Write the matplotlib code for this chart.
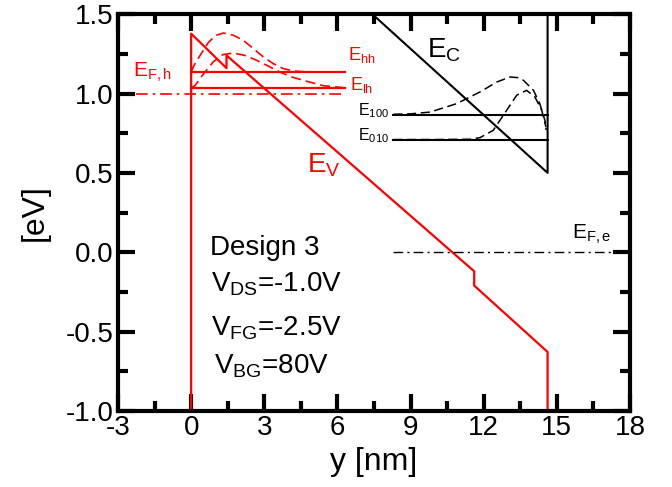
import matplotlib
matplotlib.use('Agg')
import matplotlib.pyplot as plt
from matplotlib.ticker import MultipleLocator, FormatStrFormatter

plt.rcParams['font.family'] = ['Liberation Sans', 'DejaVu Sans']
plt.rcParams['mathtext.fontset'] = 'custom'
plt.rcParams['mathtext.rm'] = 'Liberation Sans'
plt.rcParams['mathtext.default'] = 'regular'
plt.rcParams['axes.unicode_minus'] = False

# valence band edge (red)
ev_x = [0, 0, 1.45, 1.45, 11.61, 11.61, 14.62, 14.62]
ev_y = [-1.05, 1.377, 1.16, 1.24, -0.12, -0.21, -0.628, -1.05]

# conduction band edge (black)
ec_x = [7.43, 14.62, 14.62]
ec_y = [1.5, 0.5, 1.55]

# hole levels and fermi level (left side)
hole_x = [0, 6.31]
e_hh = 1.135
e_lh = 1.035
efh_x = [-2.27, 6.31]
efh = 1.0

# electron levels and fermi level (right side)
elec_x = [8.29, 14.62]
e_100 = 0.866
e_010 = 0.71
efe_x = [8.29, 18]
efe = 0.0

# wavefunctions
hh_x = [0, 0.1, 0.2, 0.41, 0.7, 1.0, 1.32, 1.73, 2.14, 2.55, 2.96, 3.37, 3.78, 4.19, 4.74, 5.3]
hh_y = [1.135, 1.17, 1.2, 1.25, 1.32, 1.365, 1.381, 1.367, 1.335, 1.283, 1.23, 1.188, 1.157, 1.142, 1.136, 1.135]
lh_x = [0, 0.16, 0.41, 0.91, 1.3, 1.73, 2.2, 2.69, 3.2, 3.64, 4.1, 4.6, 5.4, 6.23]
lh_y = [1.035, 1.05, 1.104, 1.2, 1.245, 1.255, 1.24, 1.209, 1.17, 1.135, 1.105, 1.083, 1.05, 1.037]
w100_x = [8.29, 9.0, 9.8, 10.89, 11.85, 12.53, 13.08, 13.4, 13.63, 14.04, 14.3, 14.51, 14.56]
w100_y = [0.869, 0.872, 0.883, 0.936, 1.01, 1.072, 1.104, 1.1, 1.083, 1.02, 0.936, 0.831, 0.77]
w010_x = [8.29, 10.0, 11.44, 11.85, 12.39, 12.94, 13.35, 13.76, 14.1, 14.38, 14.55]
w010_y = [0.71, 0.71, 0.712, 0.722, 0.768, 0.894, 0.989, 1.02, 0.978, 0.894, 0.789]

red = '#ff0000'
fig = plt.figure(figsize=(6.72, 4.87), dpi=100)
ax = fig.add_axes([0.1756, 0.156, 0.7619, 0.815])

ax.plot(ev_x, ev_y, color=red, lw=1.6)
ax.plot(ec_x, ec_y, color='black', lw=1.5)

ax.plot(hole_x, [e_hh, e_hh], color=red, lw=1.6)
ax.plot(hole_x, [e_lh, e_lh], color=red, lw=1.6)
ax.plot(efh_x, [efh, efh], color=red, lw=1.2, dashes=(7, 3, 1.5, 3))
ax.plot(hh_x, hh_y, color=red, lw=1.2, dashes=(6, 3))
ax.plot(lh_x, lh_y, color=red, lw=1.2, dashes=(6, 3))

ax.plot(elec_x, [e_100, e_100], color='black', lw=1.5)
ax.plot(elec_x, [e_010, e_010], color='black', lw=1.5)
ax.plot(efe_x, [efe, efe], color='black', lw=1.0, dashes=(7, 3, 1.5, 3))
ax.plot(w100_x, w100_y, color='black', lw=1.1, dashes=(6, 3))
ax.plot(w010_x, w010_y, color='black', lw=1.1, dashes=(6, 3))

# labels
ax.text(9.67, 1.228, '$E_C$', fontsize=20)
ax.text(4.75, 0.504, '$E_V$', fontsize=20, color=red)
ax.text(-2.37, 1.104, '$E_{F,h}$', fontsize=15, color=red)
ax.text(6.45, 1.209, '$E_{hh}$', fontsize=13, color=red)
ax.text(6.5, 1.02, '$E_{lh}$', fontsize=13, color=red)
ax.text(6.86, 0.863, '$E_{100}$', fontsize=11.5)
ax.text(6.86, 0.708, '$E_{010}$', fontsize=11.5)
ax.text(15.62, 0.088, '$E_{F,e}$', fontsize=15)

ax.text(0.77, -0.019, 'Design 3', fontsize=20)
ax.text(0.82, -0.25, '$V_{DS}$=-1.0V', fontsize=20)
ax.text(0.82, -0.523, '$V_{FG}$=-2.5V', fontsize=20)
ax.text(0.95, -0.762, '$V_{BG}$=80V', fontsize=20)

ax.set_xlim(-3, 18)
ax.set_ylim(-1.0, 1.5)
ax.xaxis.set_major_locator(MultipleLocator(3))
ax.xaxis.set_minor_locator(MultipleLocator(1.5))
ax.yaxis.set_major_locator(MultipleLocator(0.5))
ax.yaxis.set_minor_locator(MultipleLocator(0.25))
ax.yaxis.set_major_formatter(FormatStrFormatter('%.1f'))
ax.tick_params(which='both', direction='in', top=True, right=True, width=3, labelsize=20)
ax.tick_params(which='major', length=12, pad=3)
ax.tick_params(which='minor', length=7)
for s in ax.spines.values():
    s.set_linewidth(3)

ax.set_xlabel('y [nm]', fontsize=23, labelpad=4)
ax.set_ylabel('[eV]', fontsize=23, labelpad=12)

fig.savefig('out.png', dpi=100)
